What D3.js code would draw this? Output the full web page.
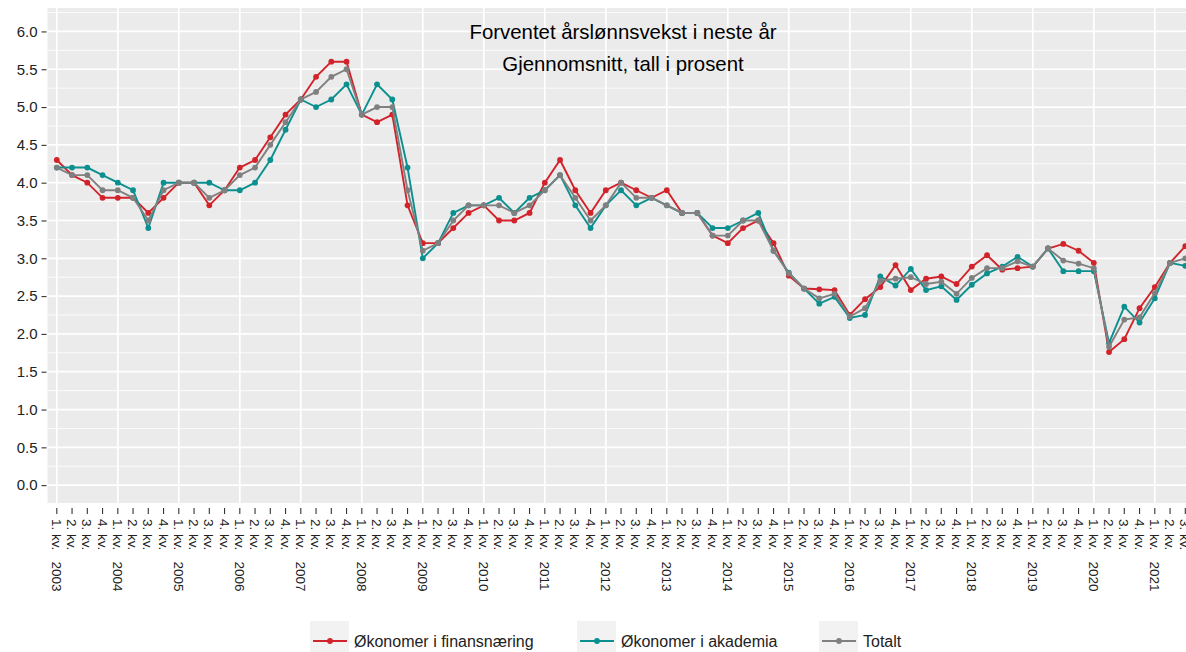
<!DOCTYPE html>
<html>
<head>
<meta charset="utf-8">
<script src="https://cdn.jsdelivr.net/npm/d3@7"></script>
<style>
  body { margin: 0; background: #fff; }
  text { font-family: "Liberation Sans", Arial, sans-serif; }
</style>
</head>
<body>
<svg width="1186" height="652"></svg>
<script>
// quarter labels and years
var quarterNames = ["1. kv.", "2. kv.", "3. kv.", "4. kv."];
var years = [2003, 2004, 2005, 2006, 2007, 2008, 2009, 2010, 2011, 2012,
             2013, 2014, 2015, 2016, 2017, 2018, 2019, 2020, 2021];
var yTicks = [0, 0.5, 1, 1.5, 2, 2.5, 3, 3.5, 4, 4.5, 5, 5.5, 6];
var seriesNames = ["Økonomer i finansnæring", "Økonomer i akademia", "Totalt"];
var titleLines = ["Forventet årslønnsvekst i neste år", "Gjennomsnitt, tall i prosent"];

// values, 1. kv. 2003 - 3. kv. 2021
var finans = [4.3, 4.1, 4.0, 3.8, 3.8, 3.8, 3.6, 3.8, 4.0, 4.0, 3.7, 3.9,
  4.2, 4.3, 4.6, 4.9, 5.1, 5.4, 5.6, 5.6, 4.9, 4.8, 4.9, 3.7,
  3.2, 3.2, 3.4, 3.6, 3.7, 3.5, 3.5, 3.6, 4.0, 4.3, 3.9, 3.6,
  3.9, 4.0, 3.9, 3.8, 3.9, 3.6, 3.6, 3.3, 3.2, 3.4, 3.5, 3.2,
  2.77, 2.6, 2.59, 2.58, 2.25, 2.46, 2.62, 2.91, 2.58, 2.73, 2.76, 2.66,
  2.89, 3.04, 2.85, 2.87, 2.89, 3.13, 3.19, 3.1, 2.94, 1.76, 1.93, 2.34,
  2.62, 2.94, 3.16];
var akademia = [4.2, 4.2, 4.2, 4.1, 4.0, 3.9, 3.4, 4.0, 4.0, 4.0, 4.0, 3.9,
  3.9, 4.0, 4.3, 4.7, 5.1, 5.0, 5.1, 5.3, 4.9, 5.3, 5.1, 4.2,
  3.0, 3.2, 3.6, 3.7, 3.7, 3.8, 3.6, 3.8, 3.9, 4.1, 3.7, 3.4,
  3.7, 3.9, 3.7, 3.8, 3.7, 3.6, 3.6, 3.4, 3.4, 3.5, 3.6, 3.1,
  2.81, 2.6, 2.4, 2.49, 2.21, 2.25, 2.76, 2.64, 2.86, 2.58, 2.63, 2.45,
  2.65, 2.8, 2.89, 3.02, 2.89, 3.13, 2.83, 2.83, 2.83, 1.88, 2.36, 2.15,
  2.47, 2.94, 2.9];
var totalt = [4.2, 4.1, 4.1, 3.9, 3.9, 3.8, 3.5, 3.9, 4.0, 4.0, 3.8, 3.9,
  4.1, 4.2, 4.5, 4.8, 5.1, 5.2, 5.4, 5.5, 4.9, 5.0, 5.0, 3.9,
  3.1, 3.2, 3.5, 3.7, 3.7, 3.7, 3.6, 3.7, 3.9, 4.1, 3.8, 3.5,
  3.7, 4.0, 3.8, 3.8, 3.7, 3.6, 3.6, 3.3, 3.3, 3.5, 3.5, 3.1,
  2.8, 2.6, 2.47, 2.53, 2.23, 2.34, 2.7, 2.73, 2.75, 2.66, 2.69, 2.53,
  2.74, 2.87, 2.87, 2.96, 2.89, 3.13, 2.97, 2.93, 2.87, 1.83, 2.19, 2.22,
  2.54, 2.94, 3.0];

var colors = ["#d2232a", "#0b8f8f", "#808080"];

var svg = d3.select("svg"),
    margin = {top: 8, right: -30, bottom: 149, left: 47.5},
    width = svg.attr("width") - margin.left - margin.right,
    height = svg.attr("height") - margin.top - margin.bottom;

// build quarter labels
var labels = finans.map(function(d, i) {
  var q = quarterNames[i % 4];
  return i % 4 === 0 ? q + "   " + years[Math.floor(i / 4)] : q;
});

var series = [finans, akademia, totalt].map(function(vals, k) {
  return {id: seriesNames[k], color: colors[k],
          values: vals.map(function(v, i) { return {i: i, v: v}; })};
});

var x = d3.scaleLinear().domain([0, 74]).range([56.8, 1185.3]),
    y = d3.scaleLinear().domain([-0.24, 6.31]).range([503.3, 8]);

// panel
svg.append("rect")
  .attr("x", margin.left).attr("y", margin.top)
  .attr("width", width).attr("height", height)
  .attr("fill", "#ebebeb");

// minor grid
var minor = d3.range(0.25, 6.3, 0.5);
svg.append("g").selectAll("line").data(minor).enter().append("line")
  .attr("x1", margin.left).attr("x2", margin.left + width)
  .attr("y1", function(d) { return y(d); }).attr("y2", function(d) { return y(d); })
  .attr("stroke", "#fff").attr("stroke-width", 0.8);

// major grid
svg.append("g").selectAll("line").data(yTicks).enter().append("line")
  .attr("x1", margin.left).attr("x2", margin.left + width)
  .attr("y1", function(d) { return y(d); }).attr("y2", function(d) { return y(d); })
  .attr("stroke", "#fff").attr("stroke-width", 1.7);

svg.append("g").selectAll("line").data(years).enter().append("line")
  .attr("x1", function(d, k) { return x(k * 4); }).attr("x2", function(d, k) { return x(k * 4); })
  .attr("y1", margin.top).attr("y2", margin.top + height)
  .attr("stroke", "#fff").attr("stroke-width", 1.7);

// y axis
var yAxis = svg.append("g").attr("transform", "translate(" + (margin.left - 1) + ",0)")
  .call(d3.axisLeft(y).tickValues(yTicks).tickFormat(d3.format(".1f")).tickSize(5).tickPadding(4));
yAxis.select(".domain").remove();
yAxis.selectAll("line").attr("stroke", "#333").attr("stroke-width", 1.1);
yAxis.selectAll("text").attr("font-size", 15).attr("fill", "#222")
  .style("font-family", "'Liberation Sans', Arial, sans-serif");

// x axis
var xg = svg.append("g");
xg.selectAll("line").data(labels).enter().append("line")
  .attr("x1", function(d, i) { return x(i); }).attr("x2", function(d, i) { return x(i); })
  .attr("y1", 508).attr("y2", 514)
  .attr("stroke", "#333").attr("stroke-width", 1.1);
xg.selectAll("text").data(labels).enter().append("text")
  .attr("transform", function(d, i) { return "translate(" + x(i) + ",519) rotate(90)"; })
  .attr("dy", "0.36em")
  .attr("font-size", 13.5).attr("fill", "#222")
  .style("white-space", "pre")
  .text(function(d) { return d; });

// lines and points
var line = d3.line()
  .x(function(d) { return x(d.i); })
  .y(function(d) { return y(d.v); });

var s = svg.append("g").selectAll(".series").data(series).enter().append("g")
  .attr("class", "series");
s.append("path")
  .attr("d", function(d) { return line(d.values); })
  .attr("fill", "none")
  .attr("stroke", function(d) { return d.color; })
  .attr("stroke-width", 1.9);
s.selectAll("circle").data(function(d) { return d.values.map(function(p) { return {p: p, c: d.color}; }); })
  .enter().append("circle")
  .attr("cx", function(d) { return x(d.p.i); })
  .attr("cy", function(d) { return y(d.p.v); })
  .attr("r", 2.9)
  .attr("fill", function(d) { return d.c; });

// title
svg.append("g").selectAll("text").data(titleLines).enter().append("text")
  .attr("x", 623).attr("y", function(d, i) { return 39 + i * 32; })
  .attr("text-anchor", "middle")
  .attr("font-size", 20.4).attr("fill", "#000")
  .text(function(d) { return d; });

// legend
var legX = [310, 577, 819];
var leg = svg.append("g").selectAll("g").data(series).enter().append("g")
  .attr("transform", function(d, i) { return "translate(" + legX[i] + ",621)"; });
leg.append("rect").attr("width", 39).attr("height", 40).attr("fill", "#f2f2f2");
leg.append("line").attr("x1", 3).attr("x2", 37).attr("y1", 20).attr("y2", 20)
  .attr("stroke", function(d) { return d.color; }).attr("stroke-width", 1.9);
leg.append("circle").attr("cx", 20).attr("cy", 20).attr("r", 2.9)
  .attr("fill", function(d) { return d.color; });
leg.append("text").attr("x", 44).attr("y", 26)
  .attr("font-size", 16).attr("fill", "#222")
  .text(function(d) { return d.id; });
</script>
</body>
</html>
